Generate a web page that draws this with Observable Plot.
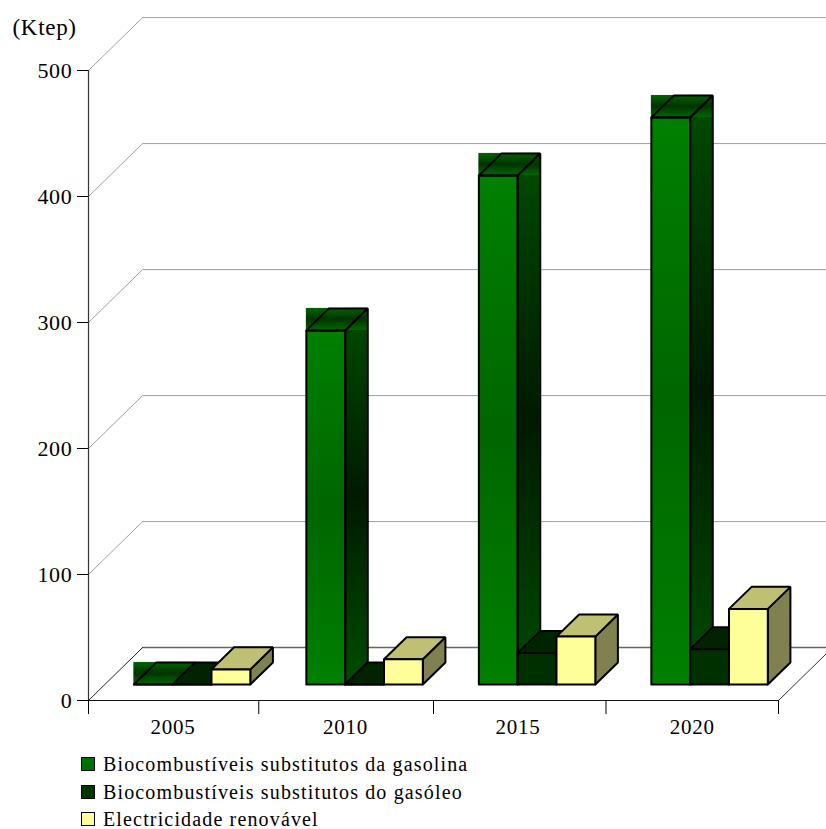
<!DOCTYPE html>
<html>
<head>
<meta charset="utf-8">
<script src="https://cdn.jsdelivr.net/npm/d3@7"></script>
<script src="https://cdn.jsdelivr.net/npm/@observablehq/plot@0.6"></script>
<style>
html,body{margin:0;padding:0;background:#fff;}
#chart{width:826px;height:829px;position:relative;overflow:hidden;font-family:"Liberation Serif",serif;color:#000;}
#legend{position:absolute;left:81px;top:0;font-size:20px;letter-spacing:1.15px;}
.item{position:absolute;left:0;white-space:nowrap;height:24px;line-height:24px;}
.sw{position:absolute;left:0;top:5px;width:12px;height:12px;border:1.5px solid #000;}
.lb{position:absolute;left:22px;top:0;}
svg{display:block;overflow:hidden;}
</style>
</head>
<body>
<div id="chart"></div>
<script>
const years = ["2005","2010","2015","2020"];
const gasolina = [0, 281, 404, 450];
const gasoleo = [0, 0, 25, 28];
const renovavel = [12, 20, 38, 60];
const seriesNames = ["Biocombustíveis substitutos da gasolina","Biocombustíveis substitutos do gasóleo","Electricidade renovável"];
const legendColors = ["#007000","#003300","#ffff99"];
const yTicks = [0,100,200,300,400,500];
const xTicks = [0,.987,2,3,4];

const groupStart=.263, barW=.225, depthX=.131, depthY=17.5, baseY=12.7, wallX=.3135, wallY=42, rightEnd=4.5;
const barX=(g,s)=>g+groupStart+s*barW;

function poly(id,pts){return pts.map(([x,y])=>({id,x,y}));}
function faces(values,s){
  const top=[],side=[],front=[];
  values.forEach((v,g)=>{
    const x0=barX(g,s),x1=x0+barW,b=baseY,t=baseY+v;
    top.push(...poly("t"+g,[[x0,t],[x1,t],[x1+depthX,t+depthY],[x0+depthX,t+depthY],[x0,t]]));
    side.push(...poly("s"+g,[[x1,b],[x1+depthX,b+depthY],[x1+depthX,t+depthY],[x1,t],[x1,b]]));
    front.push(...poly("f"+g,[[x0,b],[x1,b],[x1,t],[x0,t],[x0,b]]));
  });
  return {top,side,front};
}
const gas=faces(gasolina,0), die=faces(gasoleo,1), ele=faces(renovavel,2);
const gasRows=gasolina.map((v,g)=>({x0:barX(g,0),x1:barX(g,0)+barW,v}));

const grid=yTicks.flatMap(v=>[{v,x:0,y:v},{v,x:wallX,y:v+wallY},{v,x:rightEnd,y:v+wallY}]);

function gradient(id,stops){
  return ()=>{
    const d=d3.create("svg:defs"),g=d.append("linearGradient").attr("id",id).attr("x1",0).attr("x2",0).attr("y1",0).attr("y2",1);
    stops.forEach(([o,c])=>g.append("stop").attr("offset",o).attr("stop-color",c));
    return d.node();
  };
}
const outline={x:"x",y:"y",z:"id",stroke:"#000",strokeWidth:2,strokeLinejoin:"miter",curve:"linear"};
const lineOnly=d=>Plot.line(d,outline);
const filled=(d,fill)=>Plot.line(d,{...outline,fill});

const plot=Plot.plot({
  width:826,height:745,
  marginLeft:88,marginRight:48,marginTop:70,marginBottom:45,
  style:{fontFamily:"Liberation Serif",fontSize:"22px",letterSpacing:"0.7px",background:"#fff",color:"#000"},
  x:{domain:[0,4],axis:null},
  y:{domain:[0,500],axis:null},
  marks:[
    gradient("gFront",[[0,"#008000"],[.5,"#006600"],[1,"#008000"]]),
    gradient("gSide",[[0,"#004c00"],[.5,"#001a00"],[1,"#004c00"]]),
    gradient("gTop",[[0,"#006600"],[.5,"#003300"],[1,"#006600"]]),
    Plot.line(grid.filter(d=>d.v>0),{x:"x",y:"y",z:"v",stroke:"#a0a0a0",strokeWidth:1,curve:"linear"}),
    Plot.line([{x:wallX,y:wallY},{x:rightEnd,y:wallY}],{x:"x",y:"y",stroke:"#666",strokeWidth:1.5,curve:"linear"}),
    Plot.line([{x:0,y:0},{x:wallX,y:wallY}],{x:"x",y:"y",stroke:"#222",strokeWidth:1,curve:"linear"}),
    Plot.line([{x:4,y:0},{x:4+wallX,y:wallY}],{x:"x",y:"y",stroke:"#333",strokeWidth:1,curve:"linear"}),
    Plot.ruleX([0],{y1:0,y2:500,stroke:"#333",strokeWidth:1.2}),
    Plot.ruleY([0],{x1:0,x2:4,stroke:"#111",strokeWidth:1.2}),
    Plot.axisY({ticks:yTicks,tickSize:11,tickPadding:5,label:null,fontSize:22}),
    Plot.axisX({ticks:xTicks,tickSize:14,tickFormat:()=>"",label:null}),
    Plot.axisX({ticks:[.49,1.49,2.49,3.5],tickSize:0,tickPadding:19,tickFormat:d=>years[Math.floor(d)],label:null,fontSize:21}),
    Plot.text(["(Ktep)"],{frameAnchor:"top-left",dx:-76,dy:-52,textAnchor:"start",fontSize:23}),
    // gasolina
    Plot.rect(gasRows,{x1:d=>d.x1,x2:d=>d.x1+depthX,y1:baseY-.8,y2:d=>baseY+d.v+depthY,fill:"url(#gSide)"}),
    Plot.rect(gasRows,{x1:"x0",x2:d=>d.x1+depthX,y1:d=>baseY+d.v,y2:d=>baseY+d.v+depthY,fill:"url(#gTop)"}),
    Plot.rect(gasRows,{x1:"x0",x2:"x1",y1:baseY-.8,y2:d=>baseY+d.v,fill:"url(#gFront)"}),
    lineOnly(gas.top),lineOnly(gas.side),lineOnly(gas.front),
    // gasoleo
    filled(die.side,"#003000"),filled(die.top,"#002400"),filled(die.front,"#003000"),
    // renovavel
    filled(ele.side,"#808050"),filled(ele.top,"#c0c074"),filled(ele.front,"#ffff99")
  ]
});
const root=document.getElementById("chart");
root.appendChild(plot);
const legend=document.createElement("div");legend.id="legend";
[[752],[780],[807]].forEach(([top],i)=>{
  const it=document.createElement("div");it.className="item";it.style.top=top+"px";
  const sw=document.createElement("span");sw.className="sw";sw.style.background=legendColors[i];
  const lb=document.createElement("span");lb.className="lb";lb.textContent=seriesNames[i];
  it.append(sw,lb);legend.appendChild(it);
});
root.appendChild(legend);
</script>
</body>
</html>
